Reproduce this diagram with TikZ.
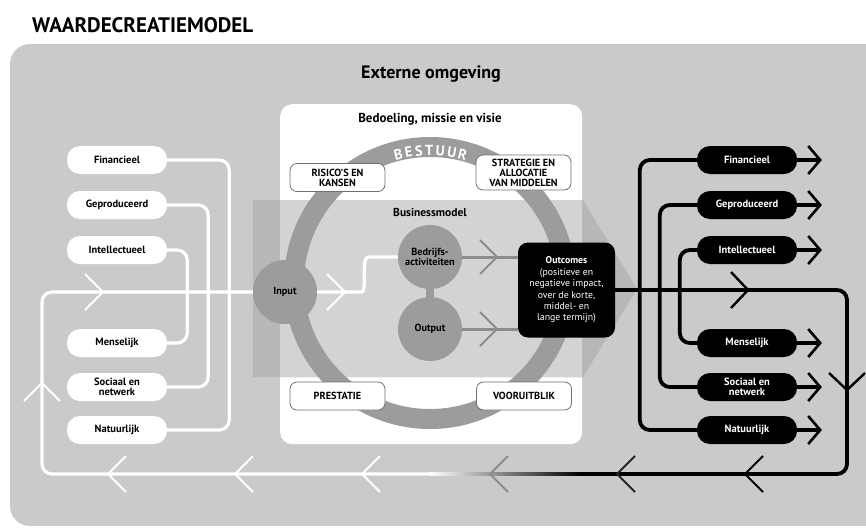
\documentclass[tikz,border=0pt]{standalone}
\usepackage{fontspec}
\setmainfont{PT Sans}
\definecolor{outerg}{HTML}{CACACA}
\definecolor{bandout}{HTML}{B7B7B7}
\definecolor{bandin}{HTML}{D3D3D3}
\definecolor{ringg}{HTML}{9C9C9C}
\definecolor{boxedge}{HTML}{707070}
\definecolor{lineg}{HTML}{8C8C8C}
\newcommand\myfs[2]{\fontsize{#1}{#2}\selectfont}
\begin{document}
\begin{tikzpicture}[x=1pt,y=-1pt,
  lbox/.style={fill=white, text=black, rounded corners=13pt, minimum width=100pt, minimum height=28pt, inner sep=1pt, align=center, font=\bfseries\myfs{10.5}{10}},
  rbox/.style={lbox, fill=black, text=white},
  ringbox/.style={fill=white, draw=boxedge, line width=0.8pt, rounded corners=7pt, minimum width=95pt, minimum height=28pt, inner sep=1pt, align=center, font=\bfseries\myfs{10.3}{10}},
  disc/.style={circle, fill=ringg, minimum size=64pt, inner sep=0pt, align=center, font=\bfseries\myfs{10.3}{10.5}},
  wline/.style={white, line width=3.2pt, rounded corners=10pt},
  bline/.style={black, line width=3.8pt, rounded corners=10pt},
  gline/.style={lineg, line width=3pt},
  chevR/.pic={\draw (-1,-1) -- (0,0) -- (-1,1);},
  chevL/.pic={\draw (1,-1) -- (0,0) -- (1,1);},
  chevU/.pic={\draw (-1,1) -- (0,0) -- (1,1);},
  chevD/.pic={\draw (-1,-1) -- (0,0) -- (1,-1);},
  chw/.style={white, line width=2pt, xscale=18, yscale=18}
]
\clip (0,0) rectangle (866,528);
\fill[white] (0,0) rectangle (866,528);
% title
\node[anchor=west, font=\bfseries\myfs{21}{21}, inner sep=0pt] (title) at (32,25) {WAARDECREATIEMODEL};
% outer environment
\fill[outerg, rounded corners=20pt] (10,44) rectangle (900,526);
\node[font=\bfseries\myfs{18}{18}] (ext) at (431,74) {Externe omgeving};
% white inner box
\node[fill=white, rounded corners=12pt, minimum width=302pt, minimum height=340pt, anchor=north west, inner sep=0pt] (wbox) at (280,104) {};
\node[font=\bfseries\myfs{13}{13}] (bed) at (430,119) {Bedoeling, missie en visie};
% business model band
\fill[bandout] (253,200) -- (583,200) -- (637,289) -- (583,377) -- (253,377) -- cycle;
\begin{scope}
\clip (280,104) rectangle (582,444);
\fill[bandin] (253,200) -- (583,200) -- (637,289) -- (583,377) -- (253,377) -- cycle;
\end{scope}
% ring
\draw[ringg, line width=20pt] (430,283) circle[radius=136pt];
\begin{scope}[shift={(430,283)}, y=1pt]
\foreach \a/\l in {103.8/B,99.3/E,94.9/S,90.4/T,85.6/U,80.5/U,75.8/R}
  \node[text=white, font=\bfseries\myfs{14.5}{14.5}, inner sep=0pt, rotate=\a-90] at (\a:132.5pt) {\l};
\end{scope}
\node[font=\bfseries\myfs{11.5}{12}] (bm) at (430,212) {Businessmodel};
% ring boxes
\node[ringbox] (ris) at (337.5,177.5) {RISICO’S EN\\KANSEN};
\node[ringbox, minimum height=35pt] (strat) at (523.5,172.5) {STRATEGIE EN\\ALLOCATIE\\VAN MIDDELEN};
\node[ringbox] (pres) at (337.5,396) {PRESTATIE};
\node[ringbox] (voor) at (524,396) {VOORUITBLIK};
% left capitals
\node[lbox] (lfin) at (117,160) {Financieel};
\node[lbox] (lgep) at (117,205) {Geproduceerd};
\node[lbox] (lint) at (117,250) {Intellectueel};
\node[lbox] (lmen) at (117,343) {Menselijk};
\node[lbox] (lsoc) at (117,387) {Sociaal en\\netwerk};
\node[lbox] (lnat) at (117,430) {Natuurlijk};
\draw[wline] (lfin.east) -- ++(62,0) |- (lnat.east);
\draw[wline] (lgep.east) -- ++(41,0) |- (lsoc.east);
\draw[wline] (lint.east) -- ++(20,0) |- (lmen.east);
% right capitals
\node[rbox] (rfin) at (747,160) {Financieel};
\node[rbox] (rgep) at (747,205) {Geproduceerd};
\node[rbox] (rint) at (747,250) {Intellectueel};
\node[rbox] (rmen) at (747,343) {Menselijk};
\node[rbox] (rsoc) at (747,387) {Sociaal en\\netwerk};
\node[rbox] (rnat) at (747,430) {Natuurlijk};
\draw[bline] (rfin.west) -- ++(-57,0) |- (rnat.west);
\draw[bline] (rgep.west) -- ++(-37,0) |- (rsoc.west);
\draw[bline] (rint.west) -- ++(-17,0) |- (rmen.west);
\foreach \n in {rfin,rgep,rint,rmen,rsoc,rnat}{
  \draw[black, line width=3.5pt] (\n.east) -- ([xshift=21pt]\n.east);
  \pic[black, line width=2.6pt, xscale=12, yscale=14] at ([xshift=23pt]\n.east) {chevR};
}
% discs
\node[disc] (bedr) at (430,257) {Bedrijfs-\\activiteiten};
\node[disc] (outp) at (430,329) {Output};
\draw[ringg, line width=8pt] (bedr.south) -- (outp.north);
% outcomes
\node[fill=black, text=white, rounded corners=10pt, minimum width=97pt, minimum height=95pt, inner sep=1pt, align=center, font=\myfs{9.8}{11.4}] (outc) at (566.5,290) {\textbf{Outcomes}\\(positieve en\\negatieve impact,\\over de korte,\\middel- en\\lange termijn)};
\draw[gline] (bedr.east) -- (bedr.east -| outc.west);
\draw[gline] (outp.east) -- (outp.east -| outc.west);
\pic[lineg, line width=2pt, xscale=17, yscale=17] at (497,257) {chevR};
\pic[lineg, line width=2pt, xscale=17, yscale=17] at (497,329) {chevR};
% value loop
\coordinate (fadeL) at (430,474);
\coordinate (fadeR) at (580,474);
\node[disc] (inp) at (285,292) {Input};
\draw[wline] (fadeL) -- (42,474) -- (42,292) -- (inp.west);
\draw[wline] (inp.east) -- (352,292) .. controls (367,292) and (361,257) .. (378,257) -- (bedr.west);
\shade[left color=white, right color=black] (430,472.1) rectangle (580,475.9);
\draw[bline] (outc.east) -- (847,290) -- (847,474) -- (fadeR);
% chevrons
\pic[chw] at (103,292) {chevR};
\pic[chw] at (345,292) {chevR};
\pic[chw] at (42,383) {chevU};
\pic[chw] at (108,474) {chevL};
\pic[chw] at (235,474) {chevL};
\pic[chw] at (362,474) {chevL};
\pic[chw, color=lineg] at (490,474) {chevL};
\pic[chw, color=black!85] at (617,474) {chevL};
\pic[chw, color=black] at (745,474) {chevL};
\pic[black, line width=2.4pt, xscale=17, yscale=18] at (748,290) {chevR};
\pic[black, line width=2.4pt, xscale=18, yscale=17] at (847,390) {chevD};
\end{tikzpicture}
\end{document}
